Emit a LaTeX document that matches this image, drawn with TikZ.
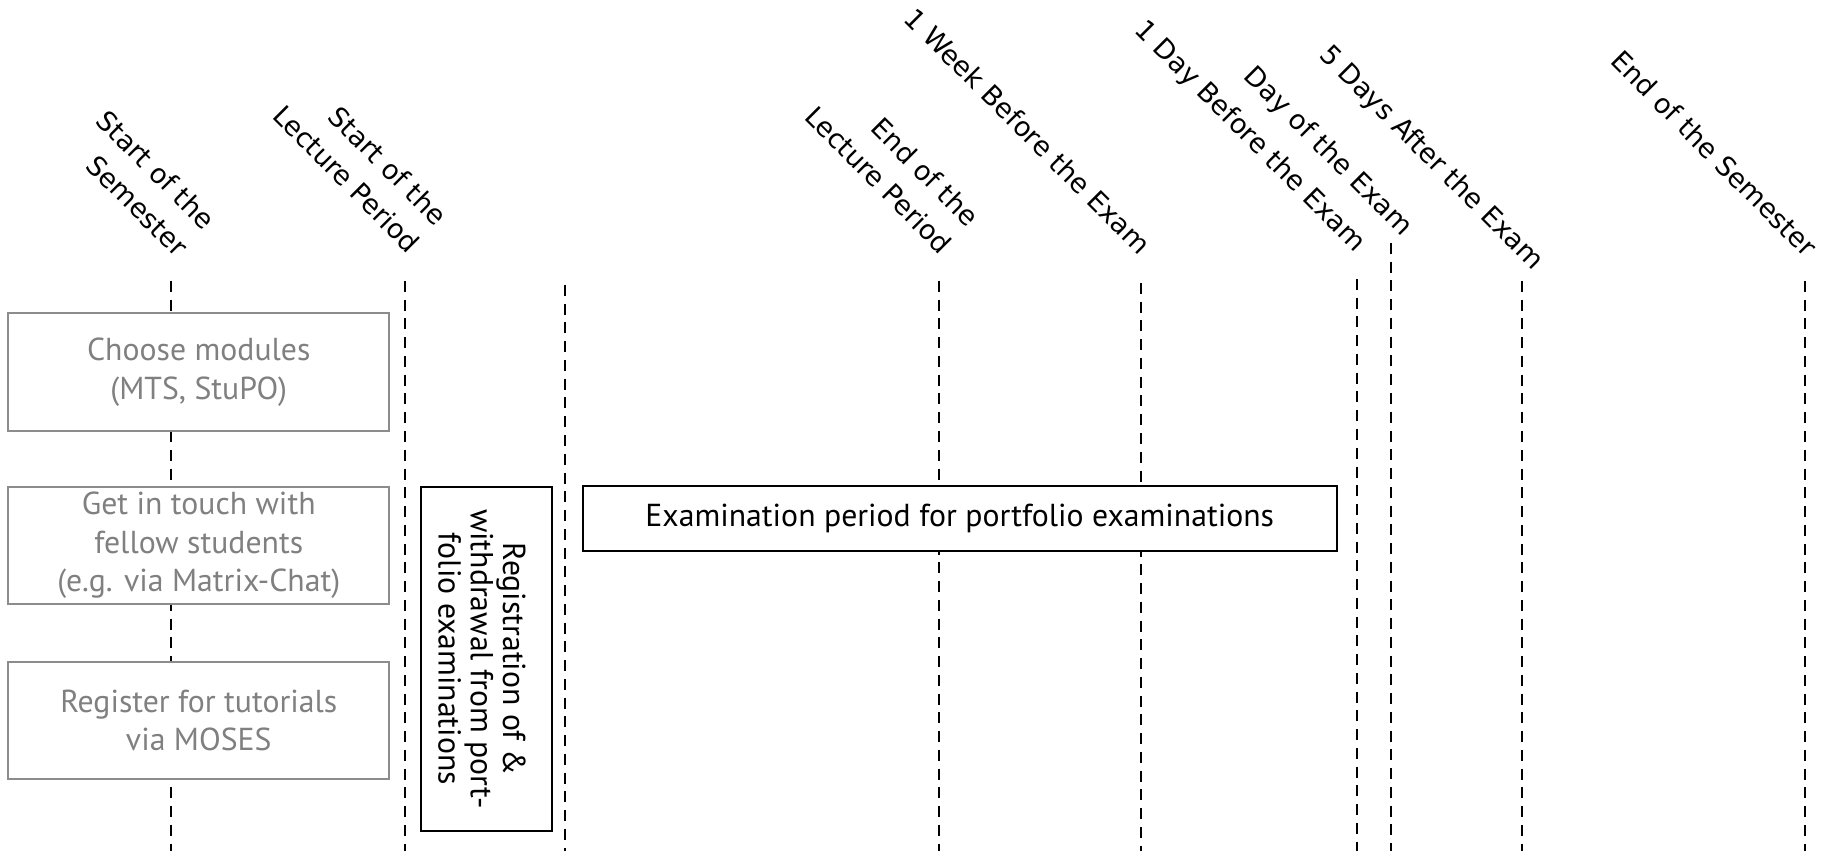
\documentclass[tikz,border=0pt]{standalone}
\usepackage{fontspec}
\setmainfont{PT Sans}
\newfontfamily\labfamily{DejaVu Sans}
\definecolor{boxgray}{RGB}{140,140,140}
\definecolor{txtgray}{RGB}{128,128,128}
\newcommand\boxfont{\fontsize{12.7pt}{15.4pt}\selectfont}
\newcommand\regfont{\fontsize{12.7pt}{12.9pt}\selectfont}
\newcommand\lfont{\labfamily\fontsize{10.8pt}{15.4pt}\selectfont}
\begin{document}
\begin{tikzpicture}[x=0.4pt,y=-0.4pt,
  tl/.style={line width=1.15pt, dash pattern=on 4.4pt off 3.1pt},
  gbox/.style={draw=boxgray, line width=0.8pt, fill=white, text=txtgray, align=center, font=\boxfont, minimum width=152.2pt, minimum height=46.8pt, inner sep=0pt},
  bbox/.style={draw=black, line width=0.8pt, fill=white, align=center, font=\boxfont, inner sep=0pt},
  lab/.style={rotate=-45, anchor=south east, inner sep=0pt, align=right, font=\lfont, text depth=0pt}]
\useasboundingbox (0,0) rectangle (1833,851);
% timeline coordinates
\coordinate (t1) at (171,281);  \coordinate (b1) at (171,851);
\coordinate (t2) at (405,281);  \coordinate (b2) at (405,851);
\coordinate (t3) at (565,285);  \coordinate (b3) at (565,851);
\coordinate (t4) at (939,281);  \coordinate (b4) at (939,851);
\coordinate (t5) at (1141,283); \coordinate (b5) at (1141,851);
\coordinate (t6) at (1357,279); \coordinate (b6) at (1357,851);
\coordinate (t7) at (1391,243); \coordinate (b7) at (1391,851);
\coordinate (t8) at (1522,281); \coordinate (b8) at (1522,851);
\coordinate (t9) at (1805,281); \coordinate (b9) at (1805,851);
\foreach \i in {1,...,9} \draw[tl] (t\i) -- (b\i);
% labels
\node[lab] (l1) at (176,259) {Start of the\\Semester};
\node[lab] (l2) at (408,255) {Start of the\\Lecture Period};
\node[lab] (l4) at (940,256) {End of the\\Lecture Period};
\node[lab] (l5) at (1139,257) {1 Week Before the Exam};
\node[lab] (l6) at (1355,254) {1 Day Before the Exam};
\node[lab] (l7) at (1402,238) {Day of the Exam};
\node[lab] (l8) at (1533,272) {5 Days After the Exam};
\node[lab] (l9) at (1805,259) {End of the Semester};
% boxes
\node[gbox, minimum height=47.2pt] (modules) at (198.75,372) {Choose modules\\(MTS, StuPO)};
\node[gbox] (touch) at (198.75,545.5) {Get in touch with\\fellow students\\(e.g. via Matrix-Chat)};
\node[gbox] (tutor) at (198.75,720.2) {Register for tutorials\\via MOSES};
\node[bbox, minimum width=52.2pt, minimum height=137.6pt] (regbox) at (486.25,659) {};
\node[rotate=-90, align=center, font=\regfont, inner sep=0pt] (reg) at (482,659) {Registration of \&\\withdrawal from port-\\folio examinations};
\node[bbox, minimum width=301.8pt, minimum height=26pt] (exam) at (959.75,518.5) {\raisebox{-1.4pt}{Examination period for portfolio examinations}};
\end{tikzpicture}
\end{document}
